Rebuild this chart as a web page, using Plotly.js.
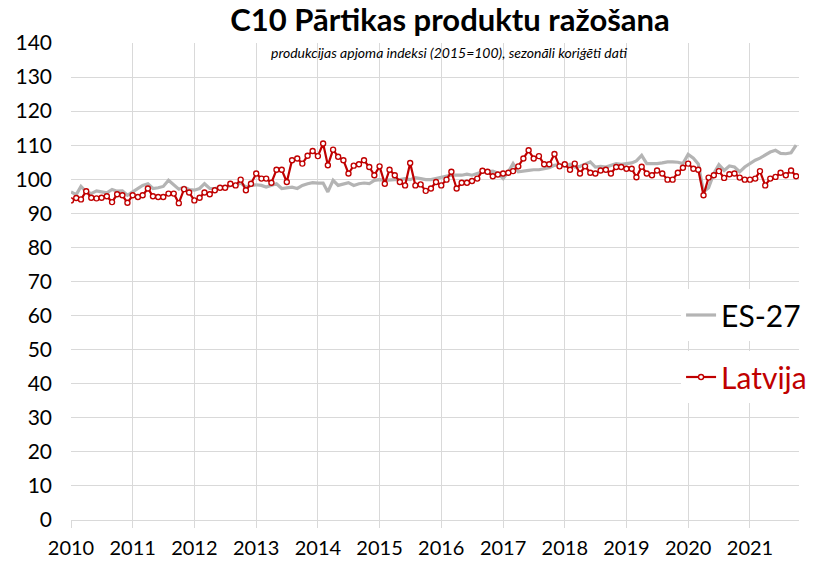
<!DOCTYPE html>
<html>
<head>
<meta charset="utf-8">
<script src="https://cdn.plot.ly/plotly-3.0.1.min.js"></script>
<style>html,body{margin:0;padding:0;background:#fff;}#chart{width:820px;height:565px;}</style>
</head>
<body>
<div id="chart"></div>
<script>
// Monthly series, January 2010 – October 2021
const startYear = 2010;
const es27 = [
  96.3, 95.5, 97.9, 96.3, 95.8, 96.6, 96.3, 96.0, 97.0, 96.5, 96.6, 95.3,
  96.3, 97.3, 98.2, 98.7, 97.3, 97.5, 97.9, 99.7, 98.4, 97.1, 97.7, 97.0,
  96.8, 97.3, 98.7, 97.3, 97.3, 97.7, 97.5, 98.2, 98.2, 98.9, 97.7, 98.2,
  98.4, 98.2, 97.7, 98.2, 98.7, 97.3, 97.5, 97.7, 97.3, 98.2, 98.7, 99.0,
  98.9, 98.9, 96.3, 99.7, 98.2, 98.7, 99.0, 98.2, 98.7, 98.9, 98.7, 99.7,
  99.9, 99.7, 99.9, 99.9, 99.9, 100.2, 99.9, 100.5, 100.2, 99.9, 99.9, 100.2,
  100.5, 100.9, 101.2, 101.2, 101.2, 101.5, 101.2, 101.7, 102.2, 102.2, 102.4, 101.8,
  100.2, 102.2, 104.6, 102.2, 102.5, 102.6, 102.8, 102.8, 103.1, 103.4, 104.1, 104.4,
  103.8, 104.4, 103.6, 103.8, 104.4, 105.1, 103.6, 103.8, 103.6, 104.1, 104.6, 104.4,
  104.6, 104.8, 105.4, 107.0, 104.6, 104.5, 104.6, 104.8, 105.1, 105.1, 105.0, 104.6,
  107.3, 106.2, 104.5, 96.3, 97.5, 101.7, 104.3, 102.6, 103.9, 103.6, 102.2, 103.6,
  104.6, 105.6, 106.2, 107.0, 108.0, 108.5, 107.6, 107.5, 107.8, 110.0
];
const latvija = [
  93.8, 94.5, 94.1, 96.5, 94.6, 94.4, 94.6, 95.0, 93.3, 95.6, 95.3, 93.1,
  95.3, 94.8, 95.3, 97.3, 95.0, 94.8, 94.8, 95.8, 95.8, 93.0, 97.1, 96.1,
  93.8, 94.6, 96.1, 95.6, 96.8, 97.5, 97.5, 98.7, 98.2, 99.9, 96.8, 98.7,
  101.7, 100.2, 100.2, 99.0, 102.8, 102.8, 99.2, 105.6, 106.1, 104.6, 106.9, 108.3,
  106.8, 110.5, 104.1, 108.7, 106.6, 105.6, 101.7, 104.0, 104.4, 105.6, 103.6, 101.2,
  103.8, 98.7, 102.8, 101.2, 99.2, 98.2, 104.8, 98.2, 98.5, 96.6, 97.3, 99.2,
  98.2, 99.9, 102.2, 97.3, 99.0, 99.0, 99.5, 100.2, 102.5, 102.2, 100.9, 101.4,
  101.7, 101.9, 102.4, 103.8, 106.1, 108.5, 106.1, 106.8, 104.4, 104.4, 107.4, 103.8,
  104.4, 102.8, 104.6, 101.7, 103.8, 101.9, 101.7, 102.6, 102.8, 101.7, 103.6, 103.6,
  103.1, 103.1, 100.6, 103.7, 101.7, 101.2, 102.6, 101.7, 99.9, 99.9, 101.9, 103.4,
  104.6, 103.1, 102.8, 95.3, 100.5, 101.2, 102.4, 100.4, 101.5, 101.7, 100.5, 99.9,
  99.9, 100.2, 102.4, 98.2, 100.2, 100.7, 101.9, 101.2, 102.6, 100.9
];
const seriesNames = ['ES-27', 'Latvija'];
const yTicks = [0, 10, 20, 30, 40, 50, 60, 70, 80, 90, 100, 110, 120, 130, 140];
const titleText = 'C10 Pārtikas produktu ražošana';
const subtitleText = 'produkcijas apjoma indeksi (2015=100), sezonāli koriģēti dati';

const months = [];
for (let i = 0; i < latvija.length; i++) {
  const y = startYear + Math.floor(i / 12);
  const m = (i % 12) + 1;
  months.push(y + '-' + (m < 10 ? '0' + m : m) + '-01');
}

const FONT = 'Lato, "Open Sans", sans-serif';

const traces = [
  {
    x: months, y: es27, name: seriesNames[0], type: 'scatter', mode: 'lines',
    line: {color: '#b4b4b4', width: 3.2},
    legend: 'legend', hoverinfo: 'skip'
  },
  {
    x: months, y: latvija, name: seriesNames[1], type: 'scatter', mode: 'lines+markers',
    line: {color: '#c00000', width: 2.2},
    marker: {symbol: 'circle', size: 5, color: '#ffffff', line: {color: '#c00000', width: 1.4}},
    legend: 'legend2', hoverinfo: 'skip'
  }
];

const layout = {
  width: 820, height: 565,
  paper_bgcolor: '#ffffff', plot_bgcolor: '#ffffff',
  margin: {l: 71, r: 8, t: 43, b: 45},
  font: {family: FONT, color: '#000000'},
  title: {
    text: '<b>' + titleText + '</b>',
    font: {family: FONT, size: 31, color: '#000000'},
    x: 450 / 820, xanchor: 'center', xref: 'container',
    y: 1 - 20 / 565, yanchor: 'middle', yref: 'container'
  },
  xaxis: {
    type: 'date',
    range: ['2010-01-01', '2021-10-18'],
    dtick: 'M12', tick0: '2010-01-01', tickformat: '%Y',
    showgrid: true, gridcolor: '#d9d9d9', gridwidth: 1,
    ticks: 'outside', ticklen: 7, tickcolor: '#d9d9d9',
    ticklabelstandoff: 3,
    showline: false, zeroline: false,
    tickfont: {family: FONT, size: 20, color: '#000000'}
  },
  yaxis: {
    range: [0, 140], tickvals: yTicks, ticktext: yTicks.map(String),
    showgrid: true, gridcolor: '#d9d9d9', gridwidth: 1,
    zeroline: true, zerolinecolor: '#d9d9d9', zerolinewidth: 1,
    showline: false, ticks: '', ticklabelstandoff: 18,
    tickfont: {family: FONT, size: 21, color: '#000000'}
  },
  showlegend: true,
  legend: {
    x: 0.838, y: (520 - 315) / 477, xanchor: 'left', yanchor: 'middle',
    bgcolor: '#ffffff', borderwidth: 0,
    font: {family: FONT, size: 30, color: '#000000'}
  },
  legend2: {
    x: 0.838, y: (520 - 377) / 477, xanchor: 'left', yanchor: 'middle',
    bgcolor: '#ffffff', borderwidth: 0,
    font: {family: FONT, size: 30, color: '#c00000'}
  },
  annotations: [{
    text: '<i>' + subtitleText + '</i>',
    xref: 'paper', yref: 'paper',
    x: (456 - 71) / 741, y: (520 - 52) / 477,
    xanchor: 'center', yanchor: 'middle', showarrow: false,
    font: {family: FONT, size: 14, color: '#000000'}
  }]
};

Plotly.newPlot('chart', traces, layout, {staticPlot: true, displayModeBar: false});
</script>
</body>
</html>
